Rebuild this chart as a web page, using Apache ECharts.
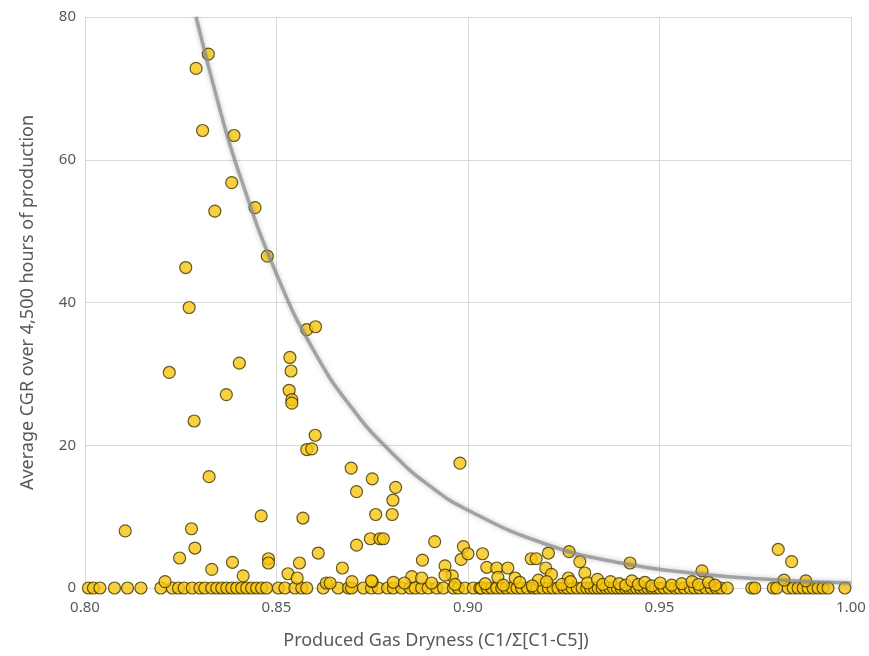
<!DOCTYPE html>
<html>
<head>
<meta charset="utf-8">
<script src="https://cdn.jsdelivr.net/npm/echarts@6/dist/echarts.min.js"></script>
<style>
  html, body { margin: 0; padding: 0; background: #fff; }
  #chart { width: 869px; height: 656px; }
</style>
</head>
<body>
<div id="chart"></div>
<script>
// wells with a visible CGR, [dryness, CGR]
const highCgrWells = [
  [0.8322, 74.8], [0.8290, 72.8], [0.8307, 64.1], [0.8389, 63.4], [0.8383, 56.8],
  [0.8339, 52.8], [0.8444, 53.3], [0.8476, 46.5], [0.8263, 44.9], [0.8272, 39.3],
  [0.8403, 31.5], [0.8220, 30.2], [0.8369, 27.1], [0.8285, 23.4], [0.8324, 15.6],
  [0.8579, 36.2], [0.8602, 36.6], [0.8535, 32.3], [0.8538, 30.4], [0.8533, 27.7],
  [0.8540, 26.4], [0.8540, 25.9], [0.8601, 21.4], [0.8579, 19.4], [0.8592, 19.5],
  [0.8979, 17.5], [0.8695, 16.8], [0.8750, 15.3], [0.8811, 14.1], [0.8709, 13.5],
  [0.8804, 12.3], [0.8759, 10.3], [0.8802, 10.3], [0.8569, 9.8], [0.8460, 10.1],
  [0.8105, 8.0], [0.8278, 8.3]
]

const lowCgrWells = [
  [0.8745, 6.9], [0.8770, 6.9], [0.8779, 6.9], [0.8709, 6.0], [0.8913, 6.5],
  [0.8988, 5.8], [0.8609, 4.9], [0.8982, 4.0], [0.8881, 3.9], [0.8560, 3.5],
  [0.8940, 3.1], [0.8672, 2.8], [0.8530, 2.0], [0.8554, 1.4], [0.8959, 1.7],
  [0.8853, 1.6], [0.8287, 5.6], [0.8247, 4.2], [0.8385, 3.6], [0.8331, 2.6],
  [0.8413, 1.7], [0.8479, 4.1], [0.8479, 3.5], [0.8209, 0.9], [0.8630, 0.7],
  [0.8697, 0.9], [0.8750, 0.9], [0.8640, 0.7], [0.8748, 1.0], [0.8805, 0.8],
  [0.8834, 0.7], [0.8879, 1.4], [0.8905, 0.7], [0.8940, 1.8], [0.8966, 0.5],
  [0.9000, 4.8], [0.9038, 4.8], [0.9049, 2.9], [0.9075, 2.8], [0.9104, 2.8],
  [0.9078, 1.5], [0.9123, 1.4], [0.9165, 4.1], [0.9178, 4.1], [0.9210, 4.9],
  [0.9203, 2.8], [0.9218, 1.9], [0.9264, 5.1], [0.9292, 3.7], [0.9305, 2.1],
  [0.9262, 1.4], [0.9423, 3.5], [0.9184, 1.1], [0.9611, 2.4], [0.9810, 5.4],
  [0.9845, 3.7], [0.9825, 1.1], [0.9882, 1.0],
  [0.9045, 0.6], [0.9092, 0.4], [0.9135, 0.8], [0.9168, 0.3], [0.9205, 0.9],
  [0.9245, 0.5], [0.9268, 0.9], [0.9312, 0.7], [0.9338, 1.2], [0.9352, 0.5],
  [0.9372, 0.9], [0.9395, 0.6], [0.9412, 0.4], [0.9428, 1.0], [0.9445, 0.5],
  [0.9462, 0.8], [0.9480, 0.3], [0.9502, 0.7], [0.9532, 0.4], [0.9558, 0.6],
  [0.9585, 0.9], [0.9602, 0.5], [0.9628, 0.8], [0.9645, 0.4]
]

// wells sitting on the zero line, dryness only
const zeroCgrDryness = [
  0.8009, 0.8022, 0.8039, 0.8077, 0.8111, 0.8146, 0.8198, 0.8228, 0.8244, 0.8259,
  0.8280, 0.8300, 0.8313, 0.8331, 0.8344, 0.8357, 0.8370, 0.8383, 0.8396, 0.8409,
  0.8422, 0.8435, 0.8448, 0.8461, 0.8474, 0.8505, 0.8522, 0.8548, 0.8566, 0.8579,
  0.8622, 0.8661, 0.8688, 0.8696, 0.8727, 0.8748, 0.8766, 0.8790, 0.8805, 0.8827,
  0.8849, 0.8862, 0.8879, 0.8896, 0.8918, 0.8936, 0.8962, 0.8975, 0.8992, 0.9014,
  0.9031, 0.9035, 0.9050, 0.9062, 0.9075, 0.9088, 0.9100, 0.9115, 0.9128, 0.9140,
  0.9155, 0.9170, 0.9180, 0.9195, 0.9210, 0.9222, 0.9235, 0.9250, 0.9260, 0.9272,
  0.9285, 0.9298, 0.9310, 0.9320, 0.9330, 0.9340, 0.9350, 0.9360, 0.9370, 0.9380,
  0.9390, 0.9400, 0.9410, 0.9420, 0.9430, 0.9440, 0.9450, 0.9460, 0.9470, 0.9480,
  0.9490, 0.9500, 0.9512, 0.9525, 0.9540, 0.9552, 0.9565, 0.9580, 0.9592, 0.9605,
  0.9620, 0.9635, 0.9648, 0.9660, 0.9677, 0.9741, 0.9749, 0.9797, 0.9806, 0.9836,
  0.9849, 0.9862, 0.9875, 0.9888, 0.9901, 0.9914, 0.9927, 0.9940, 0.9984
]

// trend line
const trendDryness = [0.829, 0.835, 0.84, 0.85, 0.86, 0.87, 0.88, 0.89, 0.90, 0.92, 0.94, 0.96, 0.98, 1.00]
const trendCgr = [80, 67.5, 58.5, 44, 33, 25, 19, 14.3, 10.9, 6.2, 3.5, 2.0, 1.15, 0.7]

const labelFont = 'Noto Sans'
const textGrey = '#595959'

const wellPoints = zeroCgrDryness.map((x) => [x, 0]).concat(lowCgrWells, highCgrWells)
const trendPoints = trendDryness.map((x, i) => [x, trendCgr[i]])

const chart = echarts.init(document.getElementById('chart'), null, { renderer: 'canvas' })

chart.setOption({
  animation: false,
  backgroundColor: '#fff',
  grid: { left: 85, right: 18, top: 17, bottom: 68 },
  xAxis: {
    type: 'value',
    min: 0.8,
    max: 1.0,
    interval: 0.05,
    name: 'Produced Gas Dryness (C1/\u03A3[C1-C5])',
    nameLocation: 'middle',
    nameGap: 44,
    nameTextStyle: { fontFamily: labelFont, fontSize: 18, color: textGrey, padding: [0, 64, 0, 0] },
    axisLabel: {
      fontFamily: labelFont,
      fontSize: 15,
      color: textGrey,
      margin: 12,
      formatter: (v) => v.toFixed(2),
    },
    axisLine: { show: true, lineStyle: { color: '#d9d9d9', width: 1 } },
    axisTick: { show: false },
    splitLine: { show: true, lineStyle: { color: '#d9d9d9', width: 1 } },
  },
  yAxis: {
    type: 'value',
    min: 0,
    max: 80,
    interval: 20,
    name: 'Average CGR over 4,500 hours of production',
    nameLocation: 'middle',
    nameGap: 48,
    nameTextStyle: { fontFamily: labelFont, fontSize: 18, color: textGrey },
    axisLabel: { fontFamily: labelFont, fontSize: 15, color: textGrey, margin: 9 },
    axisLine: { show: true, lineStyle: { color: '#d9d9d9', width: 1 } },
    axisTick: { show: false },
    splitLine: { show: true, lineStyle: { color: '#d9d9d9', width: 1 } },
  },
  series: [
    {
      name: 'Wells',
      type: 'scatter',
      data: wellPoints,
      symbol: 'circle',
      symbolSize: 12,
      itemStyle: { color: '#f7c510', borderColor: '#3d3300', borderWidth: 1.2 },
      z: 2,
    },
    {
      name: 'Trend',
      type: 'line',
      data: trendPoints,
      smooth: true,
      showSymbol: false,
      lineStyle: {
        color: 'rgba(140,140,140,0.75)',
        width: 3.5,
        shadowColor: 'rgba(0,0,0,0.3)',
        shadowBlur: 5,
      },
      z: 3,
    },
  ],
})
</script>
</body>
</html>
